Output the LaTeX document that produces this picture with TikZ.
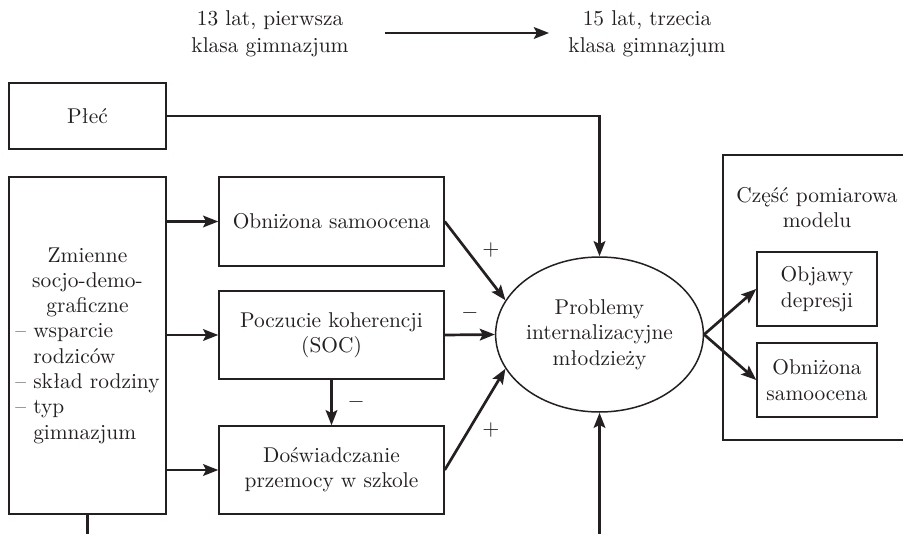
\documentclass[tikz,border=0pt]{standalone}
\usetikzlibrary{arrows.meta,shapes.geometric}
\definecolor{ink}{rgb}{0.14,0.12,0.13}
\newlength{\listw}
\begin{document}
\settowidth{\listw}{\fontsize{10.7}{12.65}\selectfont -- skład rodziny}
\begin{tikzpicture}[x=0.5pt,y=-0.5pt,
    >={Stealth[length=7.5pt,width=5.8pt,inset=1.4pt]},
    every node/.style={font=\fontsize{10.7}{12.65}\selectfont,text=ink},
    wave/.style={align=center,font=\fontsize{10.7}{13.5}\selectfont},
    box/.style={draw=ink,line width=0.75pt,inner sep=0pt,align=center},
    link/.style={draw=ink,line width=1.35pt}]
  \clip (0,0) rectangle (903,534);
  % time line at the top
  \node[wave] (wave1) at (270,33.5) {13 lat, pierwsza\\klasa gimnazjum};
  \node[wave] (wave2) at (647,33.5) {15 lat, trzecia\\klasa gimnazjum};
  \coordinate (w1) at (385,33);
  \coordinate (w2) at (549,33);
  \draw[link,->] (w1)--(w2);
  % predictors
  \node[box,minimum width=78.5pt,minimum height=33pt] (plec) at (87.5,116) {Płeć};
  \node[box,minimum width=78.5pt,minimum height=168.5pt] (zmienne) at (87.5,345.5)
    {Zmienne\\socjo-demo-\\graficzne\\
     \makebox[\listw][l]{-- wsparcie}\\
     \makebox[\listw][l]{\phantom{-- }rodziców}\\
     \makebox[\listw][l]{-- skład rodziny}\\
     \makebox[\listw][l]{-- typ}\\
     \makebox[\listw][l]{\phantom{-- }gimnazjum}};
  \node[box,minimum width=112.5pt,minimum height=44.5pt] (obn) at (331.5,221.5) {Obniżona samoocena};
  \node[box,minimum width=112.5pt,minimum height=44pt] (soc) at (331.5,335) {Poczucie koherencji\\(SOC)};
  \node[box,minimum width=112.5pt,minimum height=44pt] (dos) at (331.5,470) {Doświadczanie\\przemocy w szkole};
  % outcome
  \node[ellipse,draw=ink,line width=0.75pt,inner sep=0pt,align=center,
    minimum width=93.5pt,minimum height=77.5pt] (ell) at (599.5,334.5)
    {Problemy\\internalizacyjne\\młodzieży};
  % measurement part
  \node[draw=ink,line width=0.75pt,minimum width=94pt,minimum height=142.5pt] (czesc) at (817,297.5) {};
  \node[align=center] (czesclab) at (817,207.5) {Część pomiarowa\\modelu};
  \node[box,minimum width=60pt,minimum height=37pt] (obj) at (817,289) {Objawy\\depresji};
  \node[box,minimum width=60pt,minimum height=37pt] (obn2) at (817,380) {Obniżona\\samoocena};
  % paths
  \coordinate (bot) at (599.5,545);
  \draw[link,->] (zmienne.east |- obn.west)--(obn.west);
  \draw[link,->] (zmienne.east |- soc.west)--(soc.west);
  \draw[link,->] (zmienne.east |- dos.west)--(dos.west);
  \draw[link,->] (obn.east)--(ell.160) node[midway,above right,inner sep=1pt,xshift=2pt]{$+$};
  \draw[link,->] (soc.east)--(ell.west) node[midway,above=3pt]{$-$};
  \draw[link,->] (dos.east)--(ell.200) node[midway,below right,inner sep=1pt,xshift=2pt]{$+$};
  \draw[link,->] (soc.south)--(dos.north) node[midway,right=4pt]{$-$};
  \draw[link,->] (plec.east)-|(ell.north);
  \draw[link,->] (bot)--(ell.south);
  \draw[link] (zmienne.south)--(zmienne.south |- bot);
  \draw[link,->] (ell.east)--(obj.west);
  \draw[link,->] (ell.east)--(obn2.west);
\end{tikzpicture}
\end{document}
